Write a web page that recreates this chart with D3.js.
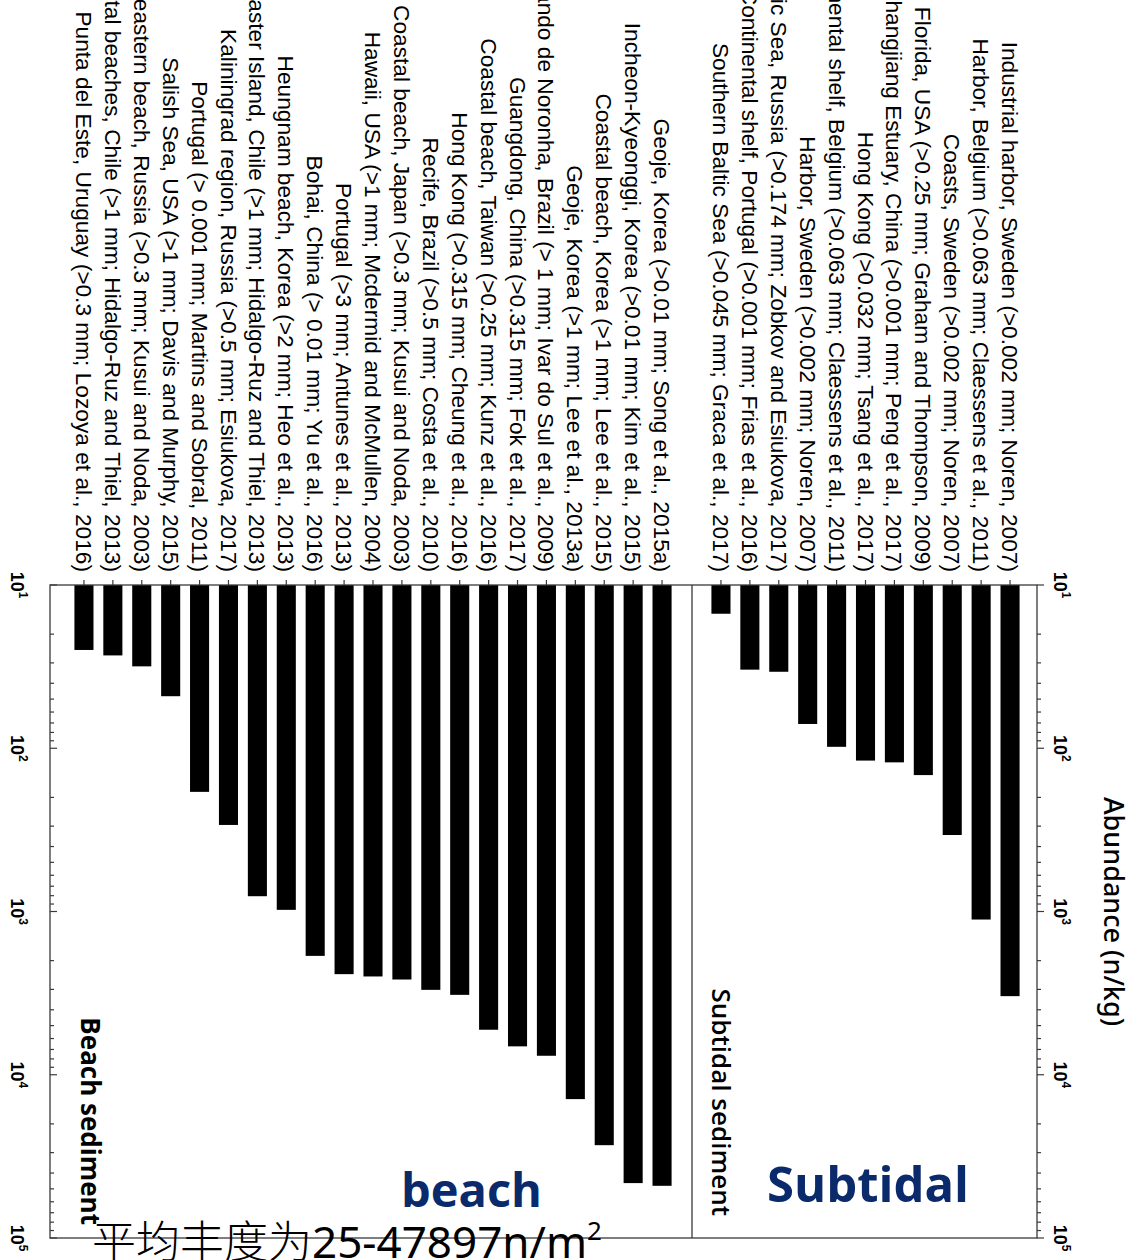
<!DOCTYPE html>
<html>
<head>
<meta charset="utf-8">
<script src="https://cdn.jsdelivr.net/npm/d3@7"></script>
<style>
  html, body { margin: 0; padding: 0; background: #fff; }
  svg { display: block; }
</style>
</head>
<body>
<script>
// ---------------- DATA ----------------
const subtidalLabels = [
  "Industrial harbor, Sweden (>0.002 mm; Noren, 2007)",
  "Harbor, Belgium (>0.063 mm; Claessens et al., 2011)",
  "Coasts, Sweden (>0.002 mm; Noren, 2007)",
  "Coastal Florida, USA (>0.25 mm; Graham and Thompson, 2009)",
  "Changjiang Estuary, China (>0.001 mm; Peng et al., 2017)",
  "Hong Kong (>0.032 mm; Tsang et al., 2017)",
  "Continental shelf, Belgium (>0.063 mm; Claessens et al., 2011)",
  "Harbor, Sweden (>0.002 mm; Noren, 2007)",
  "Baltic Sea, Russia (>0.174 mm; Zobkov and Esiukova, 2017)",
  "Continental shelf, Portugal (>0.001 mm; Frias et al., 2016)",
  "Southern Baltic Sea (>0.045 mm; Graca et al., 2017)"
];
const subtidalValues = [3300, 1120, 340, 146, 122, 119, 98, 71, 34, 33, 15];

const beachLabels = [
  "Geoje, Korea (>0.01 mm; Song et al., 2015a)",
  "Incheon-Kyeonggi, Korea (>0.01 mm; Kim et al., 2015)",
  "Coastal beach, Korea (>1 mm; Lee et al., 2015)",
  "Geoje, Korea (>1 mm; Lee et al., 2013a)",
  "Fernando de Noronha, Brazil (> 1 mm; Ivar do Sul et al., 2009)",
  "Guangdong, China (>0.315 mm; Fok et al., 2017)",
  "Coastal beach, Taiwan (>0.25 mm; Kunz et al., 2016)",
  "Hong Kong (>0.315 mm; Cheung et al., 2016)",
  "Recife, Brazil (>0.5 mm; Costa et al., 2010)",
  "Coastal beach, Japan (>0.3 mm; Kusui and Noda, 2003)",
  "Hawaii, USA (>1 mm; Mcdermid and McMullen, 2004)",
  "Portugal (>3 mm; Antunes et al., 2013)",
  "Bohai, China (> 0.01 mm; Yu et al., 2016)",
  "Heungnam beach, Korea (>2 mm; Heo et al., 2013)",
  "Easter Island, Chile (>1 mm; Hidalgo-Ruz and Thiel, 2013)",
  "Kaliningrad region, Russia (>0.5 mm; Esiukova, 2017)",
  "Portugal (> 0.001 mm; Martins and Sobral, 2011)",
  "Salish Sea, USA (>1 mm; Davis and Murphy, 2015)",
  "Northeastern beach, Russia (>0.3 mm; Kusui and Noda, 2003)",
  "Coastal beaches, Chile (>1 mm; Hidalgo-Ruz and Thiel, 2013)",
  "Punta del Este, Uruguay (>0.3 mm; Lozoya et al., 2016)"
];
const beachValues = [47897, 46100, 27000, 14100, 7650, 6700, 5300, 3240, 3020, 2610, 2500, 2420,
                     1870, 977, 806, 295, 185, 48, 31.5, 27, 25];

const tickExponents = [1, 2, 3, 4, 5];
const axisTitle = "Abundance (n/kg)";
const subtidalPanelTitle = "Subtidal sediment";
const beachPanelTitle = "Beach sediment";
const beachNote = "beach";
const subtidalNote = "Subtidal";
const noteCN = "平均丰度为";
const noteNum = "25-47897n/m";
const noteSup = "2";

// ---------------- LAYOUT ----------------
const W = 1135, H = 1260;
const svg = d3.select("body").append("svg").attr("width", W).attr("height", H);
svg.append("rect").attr("width", W).attr("height", H).attr("fill", "#fff");

// the whole figure is a horizontal bar chart rotated 90° clockwise
const g = svg.append("g").attr("transform", `translate(${W},0) rotate(90)`);

const u0 = 585, u1 = 1238;               // value axis extent (unrotated x)
const vTop = 98, vDiv = 443, vBot = 1085; // panel edges (unrotated y)

const x = d3.scaleLog().domain([10, 1e5]).range([u0, u1]);

const ySub = d3.scaleBand().domain(subtidalLabels).range([110.5, 428.5])
  .paddingInner(0.34).paddingOuter(0.17);
const yBeach = d3.scaleBand().domain(beachLabels).range([458.5, 1065.5])
  .paddingInner(0.34).paddingOuter(0.17);

const lineColor = "#3a3a3a";

// bars
g.append("g").selectAll("rect").data(subtidalLabels).join("rect")
  .attr("x", u0).attr("y", d => ySub(d))
  .attr("width", (d, i) => x(subtidalValues[i]) - u0)
  .attr("height", ySub.bandwidth()).attr("fill", "#000");
g.append("g").selectAll("rect").data(beachLabels).join("rect")
  .attr("x", u0).attr("y", d => yBeach(d))
  .attr("width", (d, i) => x(beachValues[i]) - u0)
  .attr("height", yBeach.bandwidth()).attr("fill", "#000");

// frame
g.append("rect").attr("x", u0).attr("y", vTop).attr("width", u1 - u0).attr("height", vBot - vTop)
  .attr("fill", "none").attr("stroke", lineColor).attr("stroke-width", 1.3);
g.append("line").attr("x1", u0).attr("x2", u1).attr("y1", vDiv).attr("y2", vDiv)
  .attr("stroke", lineColor).attr("stroke-width", 1.3);

// category axes
function catAxis(scale) {
  const ax = g.append("g").attr("transform", `translate(${u0},0)`)
    .call(d3.axisLeft(scale).tickSize(5).tickPadding(8));
  ax.select(".domain").remove();
  ax.selectAll("line").attr("stroke", lineColor).attr("stroke-width", 1.2);
  ax.selectAll("text").attr("font-family", "Liberation Sans, Arial, sans-serif")
    .attr("font-size", 22.7).attr("fill", "#000").attr("dy", "0.35em");
}
catAxis(ySub);
catAxis(yBeach);

// log value ticks
const allTicks = x.ticks();
const isMajor = t => Math.abs(Math.log10(t) - Math.round(Math.log10(t))) < 1e-9;

// top axis: ticks outward
g.append("g").selectAll("line").data(allTicks).join("line")
  .attr("x1", d => x(d)).attr("x2", d => x(d))
  .attr("y1", vTop).attr("y2", d => vTop - (isMajor(d) ? 7 : 4))
  .attr("stroke", lineColor).attr("stroke-width", 1.2);
// bottom axis: ticks inward
g.append("g").selectAll("line").data(allTicks).join("line")
  .attr("x1", d => x(d)).attr("x2", d => x(d))
  .attr("y1", vBot).attr("y2", d => vBot - (isMajor(d) ? 7 : 4))
  .attr("stroke", lineColor).attr("stroke-width", 1.2);

function tickLabels(baseV) {
  const t = g.append("g").selectAll("text").data(tickExponents).join("text")
    .attr("x", d => x(Math.pow(10, d))).attr("y", baseV)
    .attr("text-anchor", "middle")
    .attr("font-family", "Liberation Sans, Arial, sans-serif")
    .attr("font-weight", "bold").attr("font-size", 18).attr("fill", "#000");
  t.append("tspan").text("10");
  t.append("tspan").attr("dy", -8).attr("font-size", 12).text(d => d);
}
tickLabels(81);
tickLabels(1124);

// axis title
g.append("text").attr("x", (u0 + u1) / 2).attr("y", 31)
  .attr("text-anchor", "middle").attr("font-family", "Noto Sans, Open Sans, sans-serif")
  .attr("font-weight", 500).attr("font-size", 27).attr("fill", "#000").text(axisTitle);

// panel titles
g.append("text").attr("x", 1216).attr("y", 423)
  .attr("text-anchor", "end").attr("font-family", "Open Sans, sans-serif")
  .attr("font-weight", 600).attr("font-size", 26).attr("fill", "#000").text(subtidalPanelTitle);
g.append("text").attr("x", 1225).attr("y", 1054)
  .attr("text-anchor", "end").attr("font-family", "Open Sans, sans-serif")
  .attr("font-weight", 700).attr("font-size", 26).attr("fill", "#000").text(beachPanelTitle);

// ---------------- overlay annotations (horizontal) ----------------
const navy = "#0b2a6b";
svg.append("text").attr("x", 401).attr("y", 1207)
  .attr("font-family", "Open Sans, sans-serif").attr("font-weight", 700)
  .attr("font-size", 47).attr("fill", navy).text(beachNote);
svg.append("text").attr("x", 767).attr("y", 1202)
  .attr("font-family", "Open Sans, sans-serif").attr("font-weight", 700)
  .attr("font-size", 49).attr("fill", navy).text(subtidalNote);

const note = svg.append("text").attr("x", 92).attr("y", 1258).attr("fill", "#000")
  .attr("font-size", 44);
note.append("tspan").attr("font-family", "Noto Sans CJK SC, sans-serif").attr("font-weight", 300).text(noteCN);
note.append("tspan").attr("font-family", "Noto Sans, Open Sans, sans-serif").text(noteNum);
note.append("tspan").attr("font-family", "Noto Sans, Open Sans, sans-serif")
  .attr("font-size", 26).attr("dy", -18).text(noteSup);
</script>
</body>
</html>
